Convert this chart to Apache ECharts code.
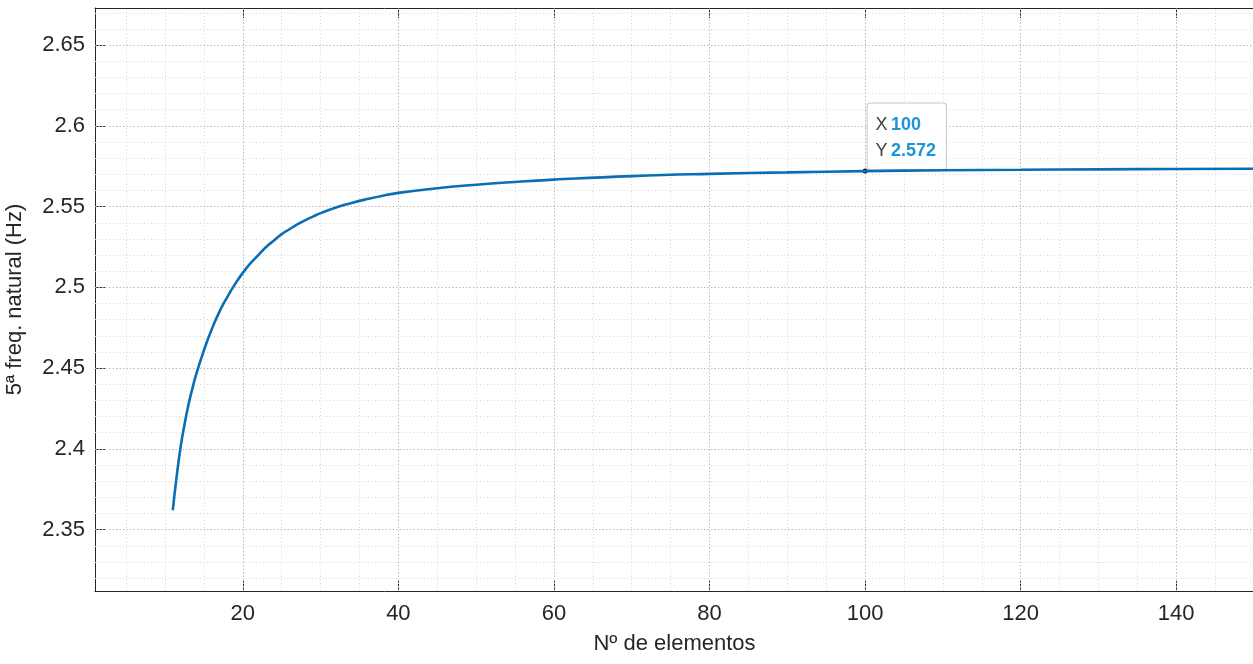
<!DOCTYPE html>
<html>
<head>
<meta charset="utf-8">
<script src="https://cdn.jsdelivr.net/npm/echarts@6/dist/echarts.min.js"></script>
<style>
html,body{margin:0;padding:0;background:#fff;}
#chart{width:1253px;height:664px;}
</style>
</head>
<body>
<div id="chart"></div>
<script>
// ---- data ----
const nElements = [11, 11.5, 12, 12.5, 13, 13.5, 14, 15, 16, 17, 18, 19, 20, 21, 22, 23, 24, 25, 26, 27, 28, 29, 30,
  32, 34, 36, 38, 40, 45, 50, 55, 60, 70, 80, 90, 100, 110, 120, 130, 140, 150];
const freq5 = [2.362, 2.383, 2.401, 2.415, 2.427, 2.437, 2.446, 2.461, 2.474, 2.485, 2.494, 2.502, 2.509, 2.515, 2.520,
  2.525, 2.529, 2.533, 2.536, 2.539, 2.5415, 2.5438, 2.546,
  2.5495, 2.5523, 2.5547, 2.5568, 2.5585, 2.5614, 2.5636, 2.5653, 2.5667, 2.5689, 2.5703, 2.5712, 2.572, 2.5725,
  2.5728, 2.5731, 2.5733, 2.5735];
const xTicks = [20, 40, 60, 80, 100, 120, 140];
const yTicks = [2.35, 2.4, 2.45, 2.5, 2.55, 2.6, 2.65];
const xRange = [1, 150];
const yRange = [2.312, 2.673];
const tipPoint = [100, 2.572];
const xLabelName = 'Nº de elementos';
const yLabelName = '5ª freq. natural (Hz)';

// grid line positions (minor every 5 in x, every 0.01 in y)
const xMinor = [];
for (let v = 5; v < xRange[1]; v += 5) if (v % 20 !== 0) xMinor.push(v);
const yMinor = [];
for (let k = 232; k <= 267; k++) { if (k % 5 !== 0) yMinor.push(k / 100); }

const FONT = '"Liberation Sans", Arial, Helvetica, sans-serif';
const TXT = '#262626';

const chart = echarts.init(document.getElementById('chart'), null, {renderer: 'canvas'});

const majorStyle = {type: [1.5, 2], color: '#bdbdbd', width: 1};
const minorStyle = {type: [1, 2.5], color: '#d6d6d6', width: 1};

const gridLines = [];
xMinor.forEach(v => gridLines.push({xAxis: v, lineStyle: minorStyle}));
yMinor.forEach(v => gridLines.push({yAxis: v, lineStyle: minorStyle}));
xTicks.forEach(v => gridLines.push({xAxis: v, lineStyle: majorStyle}));
yTicks.forEach(v => gridLines.push({yAxis: v, lineStyle: majorStyle}));

const option = {
  animation: false,
  backgroundColor: '#ffffff',
  grid: {left: 95, right: -1, top: 8, bottom: 73, containLabel: false, outerBoundsMode: 'none'},
  xAxis: [{
    type: 'value', min: xRange[0], max: xRange[1], position: 'bottom',
    name: xLabelName, nameLocation: 'middle', nameGap: 42,
    nameTextStyle: {fontFamily: FONT, fontSize: 22, color: TXT},
    axisLine: {show: true, lineStyle: {color: TXT, width: 1}},
    axisTick: {show: true, inside: true, length: 10, customValues: xTicks, lineStyle: {color: TXT}},
    axisLabel: {customValues: xTicks, fontFamily: FONT, fontSize: 22, color: TXT, margin: 12},
    splitLine: {show: false}
  }, {
    type: 'value', min: xRange[0], max: xRange[1], position: 'top',
    axisLine: {show: true, lineStyle: {color: TXT, width: 1}},
    axisTick: {show: true, inside: true, length: 10, customValues: xTicks, lineStyle: {color: TXT}},
    axisLabel: {show: false},
    splitLine: {show: false}
  }],
  yAxis: [{
    type: 'value', min: yRange[0], max: yRange[1], position: 'left',
    name: yLabelName, nameLocation: 'middle', nameGap: 69, nameRotate: 90,
    nameTextStyle: {fontFamily: FONT, fontSize: 22, color: TXT},
    axisLine: {show: true, lineStyle: {color: TXT, width: 1}},
    axisTick: {show: true, inside: true, length: 10, customValues: yTicks, lineStyle: {color: TXT}},
    axisLabel: {customValues: yTicks, fontFamily: FONT, fontSize: 22, color: TXT, margin: 10,
      formatter: v => String(parseFloat(v.toFixed(2)))},
    splitLine: {show: false}
  }],
  series: [{
    type: 'line',
    xAxisIndex: 0, yAxisIndex: 0,
    data: nElements.map((n, i) => [n, freq5[i]]),
    showSymbol: false,
    smooth: 0.5,
    lineStyle: {color: '#0a6eb4', width: 2.6},
    z: 5,
    markLine: {
      silent: true, symbol: ['none', 'none'], label: {show: false}, animation: false,
      emphasis: {disabled: true},
      data: gridLines,
      z: 1
    },
    markPoint: {
      silent: true, animation: false,
      data: [{
        coord: tipPoint,
        symbol: 'circle', symbolSize: 5,
        itemStyle: {color: '#111'},
        label: {
          show: true,
          position: [5, 1],
          align: 'left', verticalAlign: 'bottom',
          backgroundColor: 'rgba(255,255,255,0.92)',
          borderColor: '#c9c9c9', borderWidth: 1, borderRadius: 3,
          padding: [8, 10, 6, 8],
          lineHeight: 26,
          formatter: '{k|X} {v|' + tipPoint[0] + '}\n{k|Y} {v|' + tipPoint[1] + '}',
          rich: {
            k: {fontFamily: FONT, fontSize: 18, color: '#404040', lineHeight: 26},
            v: {fontFamily: FONT, fontSize: 18, fontWeight: 'bold', color: '#1b95d6', lineHeight: 26}
          }
        }
      }]
    }
  }]
};
chart.setOption(option);
</script>
</body>
</html>
